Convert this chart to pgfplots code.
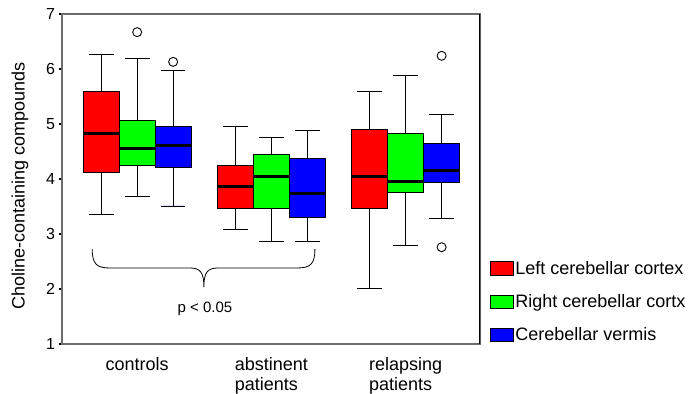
\documentclass[border=0pt]{standalone}
\usepackage{fontspec}
\setmainfont{Liberation Sans}
\usepackage{pgfplots}
\pgfplotsset{compat=1.18}
\usepgfplotslibrary{statistics}

\newcommand{\bx}[8]{%
  \addplot[forget plot, fill=#2, draw=black, line width=0.9bp,
    mark=o, mark size=4.5bp, mark options={fill=white, draw=black, line width=0.9bp},
    boxplot prepared={draw position=#1, lower whisker=#3, lower quartile=#4,
      median=#5, upper quartile=#6, upper whisker=#7}] coordinates {#8};}

\begin{document}
\begin{tikzpicture}
\useasboundingbox (-62bp,-50bp) rectangle (633bp,344bp);
\begin{axis}[
  at={(0,0)}, anchor=south west,
  scale only axis, width=418bp, height=330bp,
  xmin=0.44, xmax=3.554, ymin=1, ymax=7,
  ytick={1,2,3,4,5,6,7},
  xtick={1,2,3},
  ytick pos=left, xtick pos=bottom,
  xticklabels={controls, abstinent\\patients, relapsing\\patients},
  xticklabel style={align=left, font=\fontsize{18bp}{20bp}\selectfont, anchor=north, yshift=-7bp},
  yticklabel style={font=\fontsize{16bp}{18bp}\selectfont, xshift=-1bp},
  /pgf/number format/assume math mode=true,
  major x tick style={draw=none},
  major y tick style={black, line width=2bp},
  major tick length=2.5bp,
  tick align=outside,
  axis line style={draw=gray!85!black, line width=1.2bp},
  ylabel={Choline-containing compounds},
  ylabel style={font=\fontsize{18bp}{20bp}\selectfont, at={(axis description cs:-0.1005,0.48)}, anchor=center},
  boxplot/draw direction=y,
  boxplot/box extend=0.268,
  boxplot/whisker extend=0.184,
  boxplot/every median/.style={line width=3bp, draw=black},
  legend image code/.code={\draw[#1, draw=black, line width=0.8bp] (0bp,-6.75bp) rectangle (22.5bp,6.75bp);},
  legend style={at={(rel axis cs:1.024,0.257)}, anchor=north west, draw=none, fill=none,
    inner sep=0pt, outer sep=0pt, row sep=14.8bp, font=\fontsize{18bp}{20bp}\selectfont,
    nodes={xshift=2bp}},
  legend cell align=left,
]
% controls
\bx{0.732}{red}{3.35}{4.12}{4.83}{5.59}{6.27}{}
\bx{1.000}{green}{3.68}{4.24}{4.56}{5.06}{6.19}{(0,6.67)}
\bx{1.268}{blue}{3.51}{4.21}{4.61}{4.96}{5.98}{(0,6.13)}
% abstinent patients
\bx{1.732}{red}{3.09}{3.47}{3.87}{4.24}{4.96}{}
\bx{2.000}{green}{2.87}{3.46}{4.04}{4.45}{4.75}{}
\bx{2.268}{blue}{2.86}{3.30}{3.74}{4.37}{4.89}{}
% relapsing patients
\bx{2.732}{red}{2.01}{3.47}{4.05}{4.90}{5.60}{}
\bx{3.000}{green}{2.80}{3.76}{3.95}{4.83}{5.88}{}
\bx{3.268}{blue}{3.28}{3.93}{4.16}{4.64}{5.18}{(0,6.24) (0,2.76)}

\addlegendimage{fill=red}\addlegendentry{Left cerebellar cortex}
\addlegendimage{fill=green}\addlegendentry{Right cerebellar cortx}
\addlegendimage{fill=blue}\addlegendentry{Cerebellar vermis}

\draw[black, line width=1.2bp] (rel axis cs:1,0) -- (rel axis cs:1,1);
\draw[black, line width=0.8bp] (axis cs:0.665,2.727) .. controls (axis cs:0.665,2.45) and (axis cs:0.70,2.382) .. (axis cs:0.797,2.382)
  -- (axis cs:1.393,2.382) .. controls (axis cs:1.47,2.382) and (axis cs:1.497,2.30) .. (axis cs:1.497,2.036)
  .. controls (axis cs:1.497,2.30) and (axis cs:1.524,2.382) .. (axis cs:1.601,2.382)
  -- (axis cs:2.190,2.382) .. controls (axis cs:2.29,2.382) and (axis cs:2.324,2.45) .. (axis cs:2.324,2.727);
\node[font=\fontsize{15bp}{17bp}\selectfont] at (axis cs:1.505,1.64) {p < 0.05};
\end{axis}
\end{tikzpicture}
\end{document}
